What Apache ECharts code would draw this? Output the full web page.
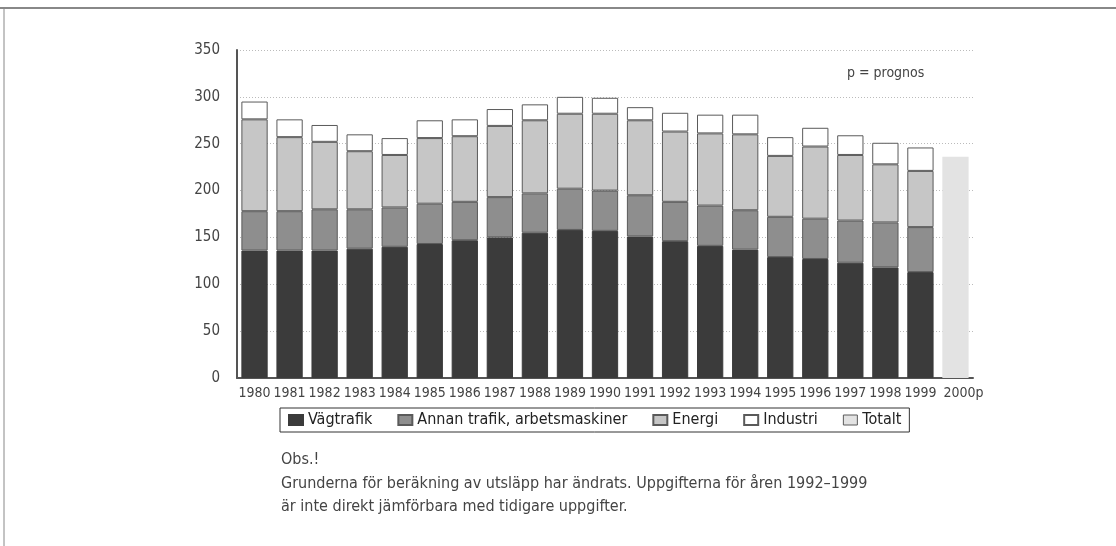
<!DOCTYPE html>
<html><head><meta charset="utf-8">
<script src="https://cdn.jsdelivr.net/npm/echarts@6/dist/echarts.min.js"></script>
<style>html,body{margin:0;padding:0;background:#fff}#c{width:1116px;height:546px}</style>
</head><body><div id="c"></div>
<script>
const years = ['1980','1981','1982','1983','1984','1985','1986','1987','1988','1989','1990','1991','1992','1993','1994','1995','1996','1997','1998','1999','2000p'];
const vagtrafik = [136,136,136,138,140,143,147,150,155,158,157,151,146,141,137,129,127,123,118,113,null];
const annanTrafik = [42,42,44,42,42,43,41,43,42,44,43,44,42,43,42,43,43,45,48,48,null];
const energi = [98,79,72,62,56,70,70,76,78,80,82,80,75,77,81,65,77,70,62,60,null];
const industri = [19,19,18,18,18,19,18,18,17,18,17,14,20,20,21,20,20,21,23,25,null];
const totalt = [null,null,null,null,null,null,null,null,null,null,null,null,null,null,null,null,null,null,null,null,236];
const yTicks = [0,50,100,150,200,250,300,350];

const FONT = '"Liberation Sans Narrow","DejaVu Sans Condensed","Roboto",sans-serif';
const chart = echarts.init(document.getElementById('c'), null, {renderer:'canvas'});
const border = {borderColor:'#5a5a5a', borderWidth:1};
chart.setOption({
  animation:false,
  backgroundColor:'#fff',
  textStyle:{fontFamily:FONT},
  grid:{left:237, right:143, top:50, bottom:168},
  xAxis:{type:'category', data:years,
    axisLine:{lineStyle:{color:'#555', width:2}}, axisTick:{show:false},
    axisLabel:{color:'#444', fontSize:14, fontFamily:FONT, margin:8, interval:0,
      formatter:function(v){ return v.indexOf('p')>=0 ? '{p|'+v+'}' : v; },
      rich:{p:{fontSize:14, fontFamily:FONT, color:'#444', padding:[0,0,0,16]}}}},
  yAxis:{type:'value', min:0, max:350, interval:50,
    axisLine:{show:true, lineStyle:{color:'#555', width:2}}, axisTick:{show:false},
    splitLine:{lineStyle:{color:'#bbb', type:[1,2], width:1}},
    axisLabel:{color:'#444', fontSize:15, fontFamily:FONT, margin:17}},
  legend:{left:280, top:408, itemWidth:14, itemHeight:10, itemGap:25, icon:'rect',
    padding:[4,8,4,8], borderColor:'#333', borderWidth:1,
    textStyle:{color:'#222', fontSize:16, fontFamily:FONT},
    data:['Vägtrafik','Annan trafik, arbetsmaskiner','Energi','Industri',
      {name:'Totalt', itemStyle:{borderColor:'#5a5a5a', borderWidth:1}}]},
  series:[
    {name:'Vägtrafik', type:'bar', stack:'a', data:vagtrafik, barCategoryGap:'25%',
      itemStyle:{color:'#3b3b3b', borderColor:'#3b3b3b', borderWidth:1}},
    {name:'Annan trafik, arbetsmaskiner', type:'bar', stack:'a', data:annanTrafik,
      itemStyle:Object.assign({color:'#8e8e8e'}, border)},
    {name:'Energi', type:'bar', stack:'a', data:energi,
      itemStyle:Object.assign({color:'#c6c6c6'}, border)},
    {name:'Industri', type:'bar', stack:'a', data:industri,
      itemStyle:Object.assign({color:'#ffffff'}, border)},
    {name:'Totalt', type:'bar', stack:'a', data:totalt,
      itemStyle:{color:'#e3e3e3', borderWidth:0}}
  ],
  graphic:[
    {type:'line', shape:{x1:0,y1:8,x2:1116,y2:8}, style:{stroke:'#888', lineWidth:2}},
    {type:'line', shape:{x1:4,y1:8,x2:4,y2:546}, style:{stroke:'#888', lineWidth:1}},
    {type:'text', left:847, top:66, style:{text:'p = prognos', fill:'#444', font:'14px '+FONT}},
    {type:'text', left:281, top:452, style:{text:'Obs.!', fill:'#444', font:'16px '+FONT}},
    {type:'text', left:281, top:476, style:{text:'Grunderna för beräkning av utsläpp har ändrats. Uppgifterna för åren 1992–1999', fill:'#444', font:'16px '+FONT}},
    {type:'text', left:281, top:499, style:{text:'är inte direkt jämförbara med tidigare uppgifter.', fill:'#444', font:'16px '+FONT}}
  ]
});
</script></body></html>
